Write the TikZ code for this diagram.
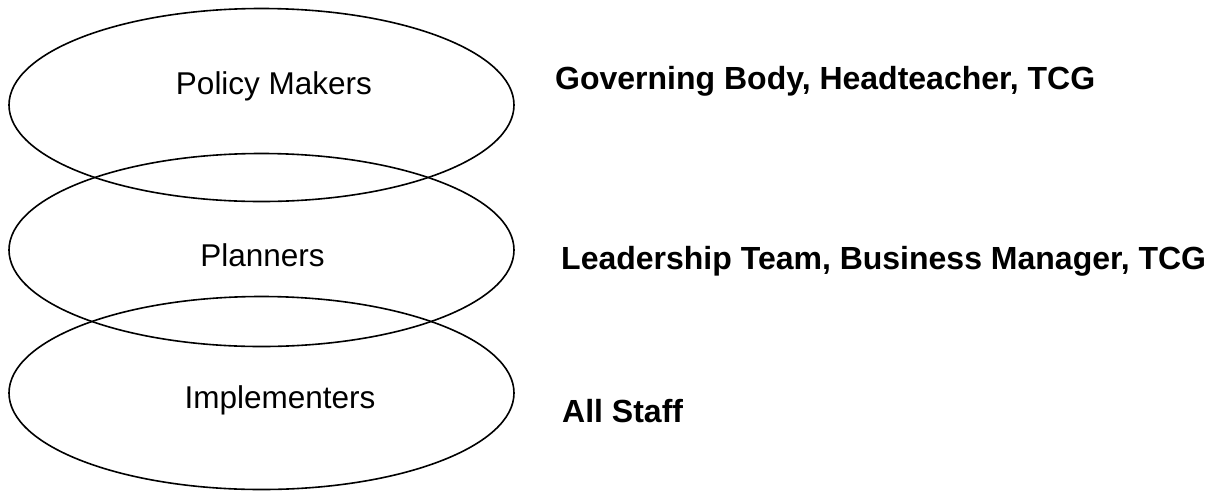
\documentclass[tikz,border=0pt]{standalone}
\usepackage{fontspec}
\setmainfont{Liberation Sans}
\usetikzlibrary{shapes.geometric}
\begin{document}
\begin{tikzpicture}[x=1pt,y=-1pt,
  layer/.style={draw=black,line width=1.6pt,ellipse,minimum width=505pt,minimum height=193pt,inner sep=0pt},
  role/.style={anchor=base,inner sep=0pt,font=\fontsize{31.5}{36}\selectfont},
  who/.style={anchor=base west,inner sep=0pt,font=\fontsize{32}{36}\selectfont\bfseries}]
\useasboundingbox (0,0) rectangle (1220,491);
\node[layer] (e1) at (261.5,105) {};
\node[layer] (e2) at (261.5,250) {};
\node[layer] (e3) at (261.5,393) {};
\node[role] (t1) at (274,94) {Policy Makers};
\node[role] (t2) at (262.5,266) {Planners};
\node[role] (t3) at (280,408) {Implementers};
\node[who] (w1) at (555,89) {Governing Body, Headteacher, TCG};
\node[who] (w2) at (561,269) {Leadership Team, Business Manager, TCG};
\node[who] (w3) at (562,422) {All Staff};
\end{tikzpicture}
\end{document}
